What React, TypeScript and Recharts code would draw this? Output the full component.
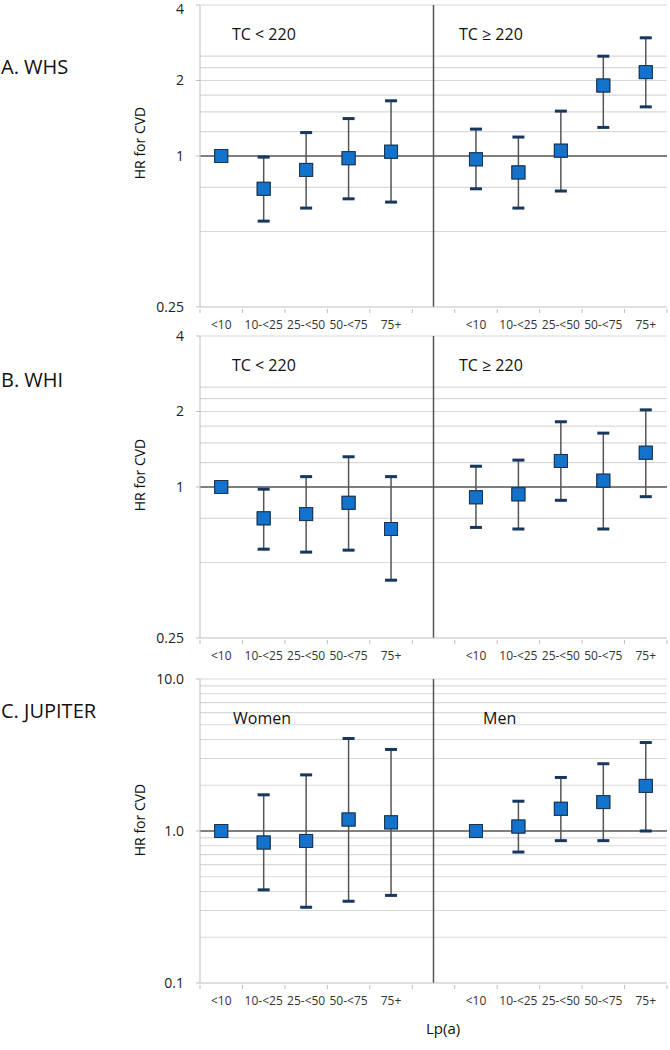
import React from "react";
import {
  ComposedChart,
  Line,
  XAxis,
  YAxis,
  ErrorBar,
  ReferenceLine,
} from "recharts";

const categories = ["<10", "10-<25", "25-<50", "50-<75", "75+"];

// A. WHS (TC < 220 | TC >= 220)
const whsLowHr = [1.0, 0.74, 0.88, 0.98, 1.04];
const whsLowLo = [null, 0.55, 0.62, 0.675, 0.655];
const whsLowHi = [null, 0.99, 1.24, 1.41, 1.66];
const whsHighHr = [0.97, 0.86, 1.05, 1.91, 2.16];
const whsHighLo = [0.74, 0.62, 0.725, 1.3, 1.57];
const whsHighHi = [1.28, 1.19, 1.51, 2.5, 2.96];

// B. WHI
const whiLowHr = [1.0, 0.75, 0.78, 0.865, 0.68];
const whiLowLo = [null, 0.565, 0.55, 0.56, 0.425];
const whiLowHi = [null, 0.98, 1.1, 1.32, 1.1];
const whiHighHr = [0.91, 0.935, 1.27, 1.06, 1.37];
const whiHighLo = [0.69, 0.68, 0.885, 0.68, 0.915];
const whiHighHi = [1.21, 1.28, 1.82, 1.64, 2.03];

// C. JUPITER (Women | Men)
const jupWomenHr = [1.0, 0.84, 0.86, 1.19, 1.14];
const jupWomenLo = [null, 0.41, 0.315, 0.345, 0.377];
const jupWomenHi = [null, 1.73, 2.34, 4.06, 3.44];
const jupMenHr = [1.0, 1.07, 1.4, 1.55, 1.98];
const jupMenLo = [null, 0.727, 0.864, 0.864, 1.0];
const jupMenHi = [null, 1.57, 2.25, 2.77, 3.82];

const log2Ticks = [0.25, 1, 2, 4];
const log2Grid = [0.5, 0.75, 1.25, 1.5, 1.75, 2, 2.25, 2.5, 4];
const log10Ticks = [0.1, 1, 10];
const log10Grid = [0.2, 0.3, 0.4, 0.5, 0.6, 0.7, 0.8, 0.9, 2, 3, 4, 5, 6, 7, 8, 9, 10];

type Val = number | null;

const buildRows = (
  lHr: Val[], lLo: Val[], lHi: Val[],
  rHr: Val[], rLo: Val[], rHi: Val[]
) => {
  const side = (pre: string, hr: Val[], lo: Val[], hi: Val[]) =>
    categories.map((c, i) => ({
      key: `${pre}|${c}`,
      hr: hr[i],
      lo: lo[i],
      hi: hi[i],
      err:
        lo[i] != null && hi[i] != null && hr[i] != null
          ? [(hr[i] as number) - (lo[i] as number), (hi[i] as number) - (hr[i] as number)]
          : null,
    }));
  return [
    ...side("L", lHr, lLo, lHi),
    { key: "gap", hr: null, lo: null, hi: null, err: null },
    ...side("R", rHr, rLo, rHi),
  ];
};

const FONT = "'Open Sans', sans-serif";
const PLOT_W = 467;
const BAND = PLOT_W / 11;
const TOP_PAD = 15;

const Square = (props: any) => {
  const { cx, cy, index } = props;
  if (cx == null || cy == null) return <g key={`s${index}`} />;
  return (
    <rect
      key={`s${index}`}
      x={cx - 6.5}
      y={cy - 6.5}
      width={13}
      height={13}
      fill="#1372cc"
      stroke="#1b3550"
      strokeWidth={1}
    />
  );
};

const Cap = (props: any) => {
  const { cx, cy, index } = props;
  if (cx == null || cy == null) return <g key={`c${index}`} />;
  return (
    <rect key={`c${index}`} x={cx - 6} y={cy - 1.5} width={12} height={3} fill="#17375e" />
  );
};

const CatTick = (props: any) => {
  const { x, y, payload, index } = props;
  const label = payload.value === "gap" ? "" : String(payload.value).split("|")[1];
  return (
    <g>
      <line x1={x - BAND / 2} y1={y} x2={x - BAND / 2} y2={y + 4} stroke="#bfbfbf" />
      {index === 10 && (
        <line x1={x + BAND / 2} y1={y} x2={x + BAND / 2} y2={y + 4} stroke="#bfbfbf" />
      )}
      <text x={x} y={y + 20} textAnchor="middle" fontSize={12} fill="#333" fontFamily={FONT}>
        {label}
      </text>
    </g>
  );
};

// y tick label; minY keeps the top label clear of the page edge
const ValTick = (props: any) => {
  const { x, y, payload, fmt, minY } = props;
  return (
    <text
      x={x}
      y={Math.max(y, minY)}
      dy="0.35em"
      textAnchor="end"
      fontSize={14}
      fill="#222"
      fontFamily={FONT}
    >
      {fmt(payload.value)}
    </text>
  );
};

type PanelProps = {
  rows: any[];
  plotTop: number;
  plotH: number;
  domain: [number, number];
  ticks: number[];
  grid: number[];
  fmt: (v: number) => string;
  minY?: number;
};

const Panel = ({ rows, plotTop, plotH, domain, ticks, grid, fmt, minY = 0 }: PanelProps) => (
  <div style={{ position: "absolute", left: 0, top: plotTop - TOP_PAD }}>
    <ComposedChart
      width={670}
      height={plotH + TOP_PAD + 35}
      data={rows}
      margin={{ top: TOP_PAD, right: 3, bottom: 0, left: 0 }}
    >
      {grid.map((g) => (
        <ReferenceLine key={g} y={g} stroke="#d9d9d9" strokeWidth={1.2} />
      ))}
      <XAxis
        dataKey="key"
        type="category"
        scale="band"
        height={35}
        interval={0}
        tickSize={0}
        tickLine={false}
        axisLine={{ stroke: "#bfbfbf" }}
        tick={<CatTick />}
      />
      <YAxis
        type="number"
        scale="log"
        domain={domain}
        ticks={ticks}
        allowDataOverflow
        width={200}
        tickSize={4}
        tickMargin={12}
        axisLine={{ stroke: "#bfbfbf" }}
        tickLine={{ stroke: "#bfbfbf" }}
        tick={<ValTick fmt={fmt} minY={minY} />}
      />
      <ReferenceLine y={1} stroke="#555" strokeWidth={1.5} />
      <ReferenceLine x="gap" stroke="#555" strokeWidth={1.5} />
      <Line
        dataKey="hr"
        stroke="none"
        dot={<Square />}
        activeDot={false}
        isAnimationActive={false}
        connectNulls={false}
      >
        <ErrorBar dataKey="err" width={0} stroke="#555" strokeWidth={1.5} direction="y" />
      </Line>
      <Line dataKey="hi" stroke="none" dot={<Cap />} activeDot={false} isAnimationActive={false} />
      <Line dataKey="lo" stroke="none" dot={<Cap />} activeDot={false} isAnimationActive={false} />
      <Line dataKey="hr" stroke="none" dot={<Square />} activeDot={false} isAnimationActive={false} />
    </ComposedChart>
  </div>
);

const txt = (s: string, left: number, top: number, size: number) => (
  <div
    style={{
      position: "absolute",
      left,
      top,
      fontSize: size,
      fontFamily: FONT,
      color: "#111",
      whiteSpace: "nowrap",
      lineHeight: 1,
    }}
  >
    {s}
  </div>
);

const App = () => {
  const whsRows = buildRows(whsLowHr, whsLowLo, whsLowHi, whsHighHr, whsHighLo, whsHighHi);
  const whiRows = buildRows(whiLowHr, whiLowLo, whiLowHi, whiHighHr, whiHighLo, whiHighHi);
  const jupRows = buildRows(jupWomenHr, jupWomenLo, jupWomenHi, jupMenHr, jupMenLo, jupMenHi);
  const fmt2 = (v: number) => String(v);
  const fmt10 = (v: number) => v.toFixed(1);
  return (
    <div style={{ position: "absolute", left: 0, top: 0, width: 670, height: 1050, background: "#fff", overflow: "hidden" }}>
      <Panel rows={whsRows} plotTop={5} plotH={302} domain={[0.25, 4]} ticks={log2Ticks} grid={log2Grid} fmt={fmt2} minY={TOP_PAD + 4} />
      <Panel rows={whiRows} plotTop={336} plotH={302} domain={[0.25, 4]} ticks={log2Ticks} grid={log2Grid} fmt={fmt2} />
      <Panel rows={jupRows} plotTop={679} plotH={304} domain={[0.1, 10]} ticks={log10Ticks} grid={log10Grid} fmt={fmt10} />

      {txt("A. WHS", 1, 57, 20)}
      {txt("B. WHI", 1, 370, 20)}
      {txt("C. JUPITER", 1, 701, 20)}

      {[143, 475, 820].map((cy, i) => (
        <div
          key={i}
          style={{
            position: "absolute",
            left: 140,
            top: cy,
            transform: "translate(-50%, -50%) rotate(-90deg)",
            fontSize: 14,
            fontFamily: FONT,
            color: "#111",
            whiteSpace: "nowrap",
            lineHeight: 1,
          }}
        >
          HR for CVD
        </div>
      ))}

      {txt("TC < 220", 232, 26, 16)}
      {txt("TC \u2265 220", 459, 26, 16)}
      {txt("TC < 220", 232, 357, 16)}
      {txt("TC \u2265 220", 459, 357, 16)}
      {txt("Women", 233, 710, 16)}
      {txt("Men", 483, 710, 16)}
      {txt("Lp(a)", 426, 1021, 15)}
    </div>
  );
};

export default App;
